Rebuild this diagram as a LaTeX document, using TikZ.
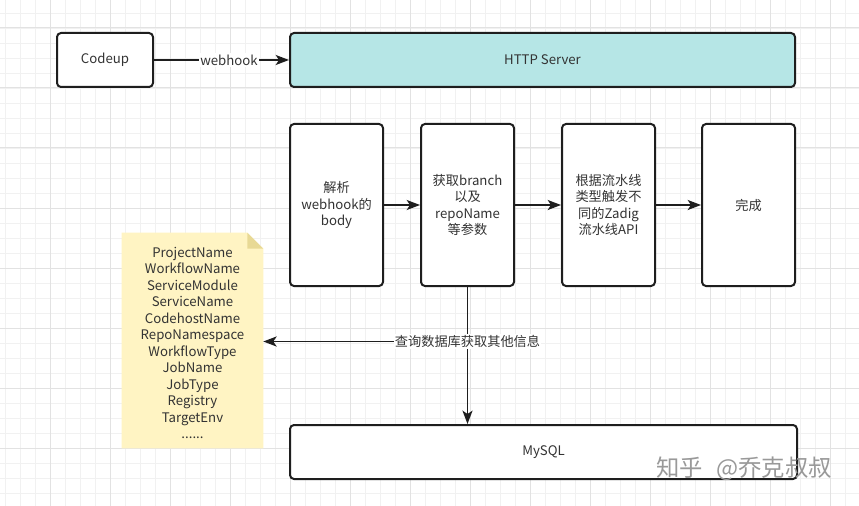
\documentclass[tikz,border=0pt]{standalone}
\usepackage{fontspec}
\setmainfont{Noto Sans CJK SC}
\usetikzlibrary{arrows.meta,backgrounds}
\newdimen\upx \upx=0.75pt
\definecolor{linec}{HTML}{1E1E1E}
\definecolor{txt}{HTML}{333333}
\definecolor{teal}{HTML}{B6E6E6}
\definecolor{notefill}{HTML}{FFF4C3}
\definecolor{notefold}{HTML}{E8D995}
\definecolor{gridminor}{HTML}{F1F1F1}
\definecolor{gridmajor}{HTML}{E2E2E2}
\begin{document}
\begin{tikzpicture}[x=0.75pt,y=-0.75pt,
  fs/.style={font=\fontsize{9.9pt}{12.2pt}\selectfont},
  box/.style={draw=linec, line width=1.5pt, rounded corners=3pt, fill=white,
    text=txt, align=center, fs, inner sep=0pt},
  arr/.style={draw=linec, line width=1.4pt, -{Stealth[length=10pt,width=7.5pt,inset=2.5pt]}},
  lbl/.style={fill=white, text=txt, fs, inner sep=1pt},
  minorline/.style={draw=gridminor, line width=0.6pt},
  majorline/.style={draw=gridmajor, line width=0.75pt}]
\useasboundingbox (0,0) rectangle (859,506);
\begin{scope}[on background layer]
  \fill[white] (0,0) rectangle (859,506);
  \foreach \x in {5,20,...,859} \draw[minorline] (\x,0) -- (\x,506);
  \foreach \y in {13,28,...,506} \draw[minorline] (0,\y) -- (859,\y);
  \foreach \x in {50,110,...,859} \draw[majorline] (\x,0) -- (\x,506);
  \foreach \y in {28,88,...,506} \draw[majorline] (0,\y) -- (859,\y);
\end{scope}

\node[box, minimum width=96\upx, minimum height=54\upx] (codeup) at (105,60) {Codeup};
\node[box, fill=teal, minimum width=505\upx, minimum height=54\upx] (http) at (542.5,60) {HTTP Server};

\node[box, minimum width=93\upx, minimum height=162\upx] (b1) at (336.5,205) {解析\\webhook的\\body};
\node[box, minimum width=93\upx, minimum height=162\upx] (b2) at (467.5,205) {获取branch\\以及\\repoName\\等参数};
\node[box, minimum width=93\upx, minimum height=162\upx] (b3) at (608.5,205) {根据流水线\\类型触发不\\同的Zadig\\流水线API};
\node[box, minimum width=93\upx, minimum height=162\upx] (b4) at (748.5,205) {完成};

\node[box, minimum width=507\upx, minimum height=54\upx] (mysql) at (543.5,452) {MySQL};

\node[minimum width=141\upx, minimum height=215\upx, inner sep=0pt] (note) at (192.5,340.5) {};
\node[inner sep=0pt, align=center, text=txt, font=\fontsize{9.9pt}{12.4pt}\selectfont] (notetext) at (192.5,343)
  {ProjectName\\WorkflowName\\ServiceModule\\ServiceName\\CodehostName\\RepoNamespace\\WorkflowType\\JobName\\JobType\\Registry\\TargetEnv\\......};
\begin{scope}[on background layer]
  \fill[notefill] (note.north west) -- ([xshift=-16\upx]note.north east)
    -- ([yshift=-16\upx]note.north east) -- (note.south east) -- (note.south west) -- cycle;
  \fill[notefold] ([xshift=-16\upx]note.north east) -- ([xshift=-16\upx,yshift=-16\upx]note.north east)
    -- ([yshift=-16\upx]note.north east) -- cycle;
\end{scope}

\draw[arr] (codeup) -- node[lbl, pos=0.555] (wh) {webhook} (http);
\draw[arr] (b1) -- (b2);
\draw[arr] (b2) -- (b3);
\draw[arr] (b3) -- (b4);
\draw[arr] (b2.south) -- (b2.south |- mysql.north);
\coordinate (j) at (467.5,341.5);
\draw[arr] (j) -- (note.east |- j);
\node[lbl] (qlab) at (j) {查询数据库获取其他信息};

\node[text=black!40, font=\fontsize{17.5pt}{19pt}\selectfont, inner sep=0pt] (wm) at (744,469) {知乎\hspace{10pt}@乔克叔叔};
\end{tikzpicture}
\end{document}
